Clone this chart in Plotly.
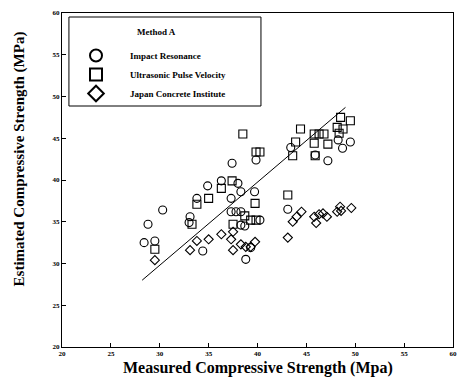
import plotly.graph_objects as go

# Impact Resonance (circles)
ir_x = [28.4, 28.8, 30.3, 29.5, 33.1, 33.0, 34.4, 33.8, 34.9, 36.3, 37.4, 38.0, 38.3, 39.7,
        37.3, 39.85, 37.3, 37.8, 38.3, 38.7, 40.25, 38.8, 39.3, 38.3, 43.1, 43.4, 45.9,
        47.2, 48.25, 48.7, 49.5]
ir_y = [32.5, 34.7, 36.4, 32.7, 35.6, 34.9, 31.5, 37.8, 39.3, 39.9, 42.0, 39.6, 38.6, 38.6,
        37.8, 42.4, 36.2, 36.2, 36.2, 34.5, 35.2, 30.5, 31.9, 34.6, 36.5, 43.9, 43.0,
        42.3, 44.8, 43.8, 44.55]

# Ultrasonic Pulse Velocity (squares)
upv_x = [29.5, 33.3, 33.8, 35.0, 36.3, 37.4, 38.5, 39.85, 40.25, 39.75, 38.7, 39.3, 39.85,
         37.5, 44.4, 43.9, 43.6, 43.1, 45.8, 46.3, 46.8, 45.8, 47.2, 45.9, 48.5, 49.5,
         48.15, 48.75, 48.35]
upv_y = [31.7, 34.7, 37.1, 37.8, 39.0, 39.9, 45.5, 43.35, 43.35, 37.2, 35.7, 35.2, 35.2,
         34.7, 46.1, 44.55, 42.9, 38.2, 45.5, 45.5, 45.5, 44.4, 44.3, 42.9, 47.5, 47.1,
         46.3, 46.1, 45.6]

# Japan Concrete Institute (diamonds)
jci_x = [29.5, 33.1, 33.8, 35.0, 36.3, 37.5, 37.3, 37.5, 38.3, 38.8, 39.75, 43.1, 43.6,
         44.0, 44.5, 45.8, 46.3, 46.7, 47.1, 46.0, 48.15, 48.45, 48.55, 49.6, 39.3]
jci_y = [30.4, 31.6, 32.7, 32.9, 33.5, 33.8, 32.9, 31.6, 32.3, 32.0, 32.6, 33.1, 35.0,
         35.6, 36.2, 35.6, 35.9, 36.0, 35.6, 34.85, 36.2, 36.8, 36.3, 36.65, 32.0]

# Regression line
line_x = [28.2, 49.0]
line_y = [28.0, 48.7]

x_ticks = [20, 25, 30, 35, 40, 45, 50, 55, 60]
y_ticks = [20, 25, 30, 35, 40, 45, 50, 55, 60]

SERIF = "Liberation Serif"

fig = go.Figure()
fig.add_trace(go.Scatter(x=line_x, y=line_y, mode="lines", line=dict(color="black", width=1),
                         showlegend=False, hoverinfo="skip"))
fig.add_trace(go.Scatter(x=ir_x, y=ir_y, mode="markers", name="Impact Resonance",
                         marker=dict(symbol="circle-open", size=8, color="black",
                                     line=dict(width=1.1))))
fig.add_trace(go.Scatter(x=upv_x, y=upv_y, mode="markers", name="Ultrasonic Pulse Velocity",
                         marker=dict(symbol="square-open", size=8, color="black",
                                     line=dict(width=1.1))))
fig.add_trace(go.Scatter(x=jci_x, y=jci_y, mode="markers", name="Japan Concrete Institute",
                         marker=dict(symbol="diamond-open", size=7, color="black",
                                     line=dict(width=1.1))))

axis_common = dict(showline=True, linecolor="black", linewidth=1, mirror=True,
                   ticks="inside", ticklen=4, tickcolor="black", showgrid=False,
                   zeroline=False,
                   tickfont=dict(family=SERIF, size=7, color="black", weight="bold"))

fig.update_xaxes(range=[20, 60], tickvals=x_ticks, ticktext=[str(v) for v in x_ticks],
                 **axis_common)
fig.update_yaxes(range=[20, 60], tickvals=y_ticks, ticktext=[str(v) for v in y_ticks],
                 **axis_common)

fig.update_layout(
    width=461, height=381,
    margin=dict(l=62, r=4, t=13, b=34),
    paper_bgcolor="white", plot_bgcolor="white",
    showlegend=True,
    legend=dict(x=0.0, y=(347 - 41) / 334, xanchor="left", yanchor="top",
                bgcolor="rgba(0,0,0,0)", borderwidth=0,
                itemwidth=58, itemsizing="constant",
                font=dict(family=SERIF, size=9, color="black", weight="bold")),
    shapes=[dict(type="rect", xref="paper", yref="paper",
                 x0=(69 - 62) / 395, x1=(263 - 62) / 395,
                 y0=(347 - 106) / 334, y1=(347 - 17) / 334,
                 line=dict(color="black", width=1), fillcolor="rgba(0,0,0,0)")],
    annotations=[
        dict(text="Method A", xref="paper", yref="paper",
             x=(157 - 62) / 395, y=(347 - 32) / 334, showarrow=False,
             xanchor="center", yanchor="middle",
             font=dict(family=SERIF, size=9, color="black", weight="bold")),
        dict(text="Measured Compressive Strength (Mpa)", xref="paper", yref="paper",
             x=(260 - 62) / 395, y=(347 - 368) / 334, showarrow=False,
             xanchor="center", yanchor="middle",
             font=dict(family=SERIF, size=16, color="black", weight="bold")),
        dict(text="Estimated Compressive Strength (MPa)", xref="paper", yref="paper",
             x=(19 - 62) / 395, y=(347 - 159) / 334, showarrow=False, textangle=-90,
             xanchor="center", yanchor="middle",
             font=dict(family=SERIF, size=15, color="black", weight="bold")),
    ],
)

fig.write_html("out.html")
